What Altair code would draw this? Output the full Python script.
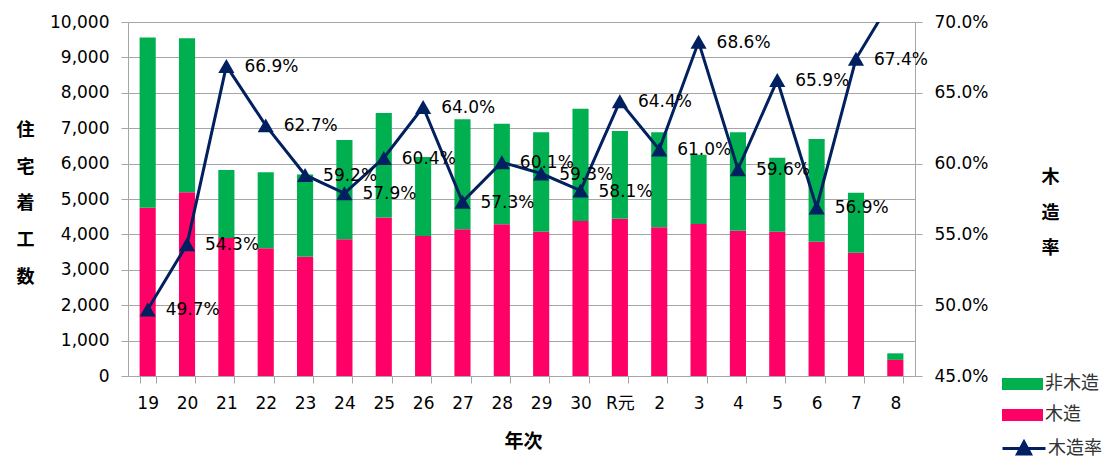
import altair as alt
import pandas as pd

# ---- data ----
years = ["19", "20", "21", "22", "23", "24", "25", "26", "27", "28",
         "29", "30", "R元", "2", "3", "4", "5", "6", "7", "8"]
wood = [4750, 5190, 3900, 3610, 3370, 3860, 4480, 3955, 4145, 4285,
        4075, 4380, 4445, 4200, 4295, 4105, 4075, 3795, 3485, 455]
nonwood = [4810, 4350, 1920, 2145, 2320, 2805, 2950, 2230, 3105, 2840,
           2810, 3170, 2475, 2685, 1955, 2780, 2090, 2900, 1695, 185]
rate = [49.7, 54.3, 66.9, 62.7, 59.2, 57.9, 60.4, 64.0, 57.3, 60.1,
        59.3, 58.1, 64.4, 61.0, 68.6, 59.6, 65.9, 56.9, 67.4, 72.0]
count_ticks = [0, 1000, 2000, 3000, 4000, 5000, 6000, 7000, 8000, 9000, 10000]
rate_ticks = [0.45, 0.50, 0.55, 0.60, 0.65, 0.70]
types = ["非木造", "木造"]
type_colors = ["#00B050", "#FF0066"]
line_color = "#002060"

FONT = "DejaVu Sans, Noto Sans CJK JP, sans-serif"
CJK = "Noto Sans CJK JP, DejaVu Sans, sans-serif"
GRID = "#A6A6A6"

rows = []
for y, w, n in zip(years, wood, nonwood):
    rows.append({"year": y, "type": "木造", "value": w, "ord": 0})
    rows.append({"year": y, "type": "非木造", "value": n, "ord": 1})
bar_df = pd.DataFrame(rows)

rate_df = pd.DataFrame({
    "year": years,
    "r": [v / 100 for v in rate],
    "lab": [f"{v:.1f}%" for v in rate],
    "series": ["木造率"] * len(years),
})

RECT = "M-2.05,-0.6H2.05V0.6H-2.05Z"
LINE_TRI = "M-2.15,0H2.15M-0.65,0.55L0,-0.65L0.65,0.55Z"

x_enc = alt.X(
    "year:N", sort=years,
    scale=alt.Scale(paddingInner=0.59, paddingOuter=0.295),
    axis=alt.Axis(
        title="年次", labelAngle=0, tickBand="extent", tickSize=7,
        tickColor=GRID, domainColor=GRID, labelFont=FONT, labelFontSize=17,
        labelColor="#000", labelPadding=12, grid=False,
        titleFont=CJK, titleFontSize=19, titleFontWeight="bold",
        titleColor="#000", titleX=395, titleY=65, titleBaseline="middle",
        titleAlign="center",
    ),
)

bars = alt.Chart(bar_df).mark_bar().encode(
    x=x_enc,
    y=alt.Y(
        "value:Q", stack="zero",
        scale=alt.Scale(domain=[0, 10000], nice=False),
        axis=alt.Axis(
            values=count_ticks, format=",.0f", grid=True, gridColor=GRID,
            tickSize=7, tickColor=GRID, domainColor=GRID,
            labelFont=FONT, labelFontSize=17, labelColor="#000", labelPadding=12,
            title=["住", "宅", "着", "工", "数"], titleAngle=0,
            titleFont=CJK, titleFontSize=18, titleFontWeight="bold",
            titleColor="#000", titleLineHeight=36.7, titleX=-103, titleY=108.5,
            titleAlign="center", titleBaseline="middle",
        ),
    ),
    color=alt.Color(
        "type:N",
        scale=alt.Scale(domain=types, range=type_colors),
        legend=alt.Legend(
            title=None, orient="none", legendX=884.5, legendY=352,
            symbolType=RECT, symbolSize=400, symbolStrokeWidth=0,
            symbolOpacity=1, labelFont=CJK, labelFontSize=18,
            labelColor="#333", labelOffset=12.5, rowPadding=12, padding=0,
        ),
    ),
    order=alt.Order("ord:Q"),
)

base = alt.Chart(rate_df).encode(
    x=alt.X("year:N", sort=years),
    y=alt.Y(
        "r:Q",
        scale=alt.Scale(domain=[0.45, 0.70], nice=False, zero=False),
        axis=alt.Axis(
            orient="right", values=rate_ticks, format=".1%", grid=False,
            tickSize=7, tickColor=GRID, domainColor=GRID,
            labelFont=FONT, labelFontSize=17, labelColor="#000", labelPadding=12,
            title=["木", "造", "率"], titleAngle=0,
            titleFont=CJK, titleFontSize=18, titleFontWeight="bold",
            titleColor="#000", titleLineHeight=35.5, titleX=135, titleY=155.5,
            titleAlign="center", titleBaseline="middle",
        ),
    ),
)

line = base.mark_line(strokeWidth=3, clip=True).encode(
    stroke=alt.Stroke(
        "series:N",
        scale=alt.Scale(domain=["木造率"], range=[line_color]),
        legend=alt.Legend(
            title=None, orient="none", legendX=884.5, legendY=415,
            symbolType=LINE_TRI, symbolSize=400, symbolStrokeWidth=3,
            symbolFillColor=line_color, labelFont=CJK, labelFontSize=18,
            labelColor="#333", labelOffset=12.5, padding=0,
        ),
    )
)

points = base.mark_point(
    shape="triangle-up", filled=True, size=260, color=line_color,
    opacity=1, clip=True,
)

labels = base.transform_filter("datum.r <= 0.70").mark_text(
    align="left", baseline="middle", dx=18, dy=1, font=FONT, fontSize=17,
    color="#000",
).encode(text="lab:N")

right = alt.layer(line, points, labels)

chart = alt.layer(bars, right).resolve_scale(y="independent").properties(
    width=787, height=354,
    autosize=alt.AutoSizeParams(type="none"),
    padding={"left": 120, "top": 14, "right": 188, "bottom": 82},
).configure_view(stroke=None)

chart.save("out.html", embed_options={"renderer": "svg", "actions": False})
